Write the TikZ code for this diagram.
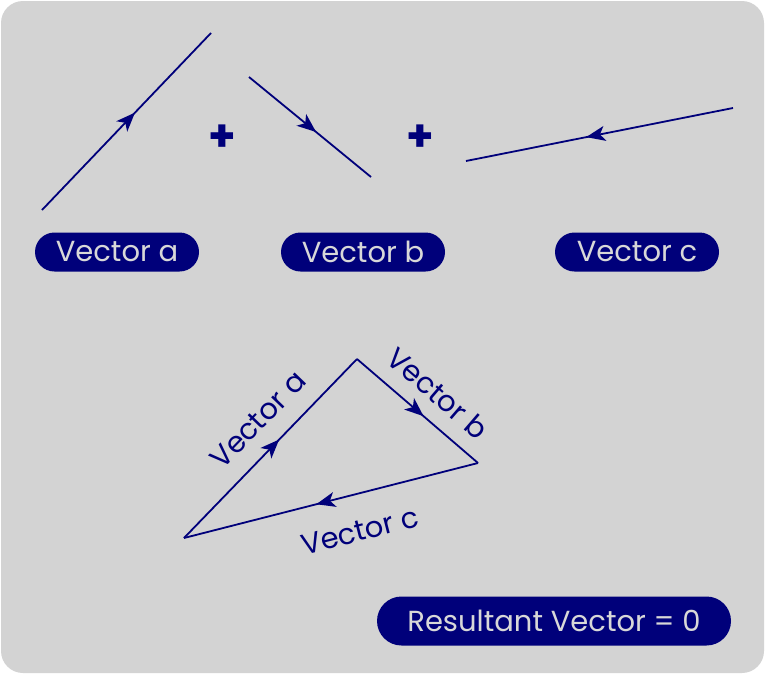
\documentclass[tikz,border=0pt]{standalone}
\usepackage{fontspec}
\setmainfont{Poppins}
\usetikzlibrary{arrows.meta,decorations.markings,shapes.misc,calc}
\definecolor{navy}{HTML}{00007A}
\definecolor{bggray}{HTML}{D3D3D3}
\definecolor{pilltext}{HTML}{D8D8D8}
\tikzset{
  vec/.style={draw=navy, line width=1.8pt,
    postaction={decorate},
    decoration={markings, mark=at position 0.55 with {\arrow{Stealth[length=19pt,width=15pt,inset=5pt]}}}},
  pill/.style={rounded rectangle, fill=navy, text=pilltext, minimum height=39pt,
    minimum width=164pt, inner sep=0pt, font=\fontsize{29}{33}\selectfont},
  vlabel/.style={text=navy, font=\fontsize{29}{33}\selectfont, inner sep=0pt},
  plus/.style={text=navy, font=\fontsize{44}{48}\selectfont\bfseries, inner sep=0pt}
}
\begin{document}
\begin{tikzpicture}[x=1pt,y=-1pt]
\useasboundingbox (0,0) rectangle (768,675);
\fill[bggray, rounded corners=22pt] (1,1) rectangle (764,673);
% top vectors
\coordinate (a1) at (42,210);
\coordinate (a2) at (211,33);
\coordinate (b1) at (249,77);
\coordinate (b2) at (371,177);
\coordinate (c1) at (733,108);
\coordinate (c2) at (466,161);
\draw[vec] (a1) -- (a2);
\draw[vec] (b1) -- (b2);
\draw[vec] (c1) -- (c2);
\node[plus] (p1) at (222,138) {+};
\node[plus] (p2) at (420,138) {+};
\node[pill] (la) at (117,252) {Vector a};
\node[pill] (lb) at (363,252) {Vector b};
\node[pill] (lc) at (637,252) {Vector c};
% triangle
\coordinate (A) at (184,538);
\coordinate (B) at (357,359);
\coordinate (C) at (478,463);
\draw[vec] (A) -- (B);
\draw[vec] (B) -- (C);
\draw[vec] (C) -- (A);
\node[vlabel, rotate=46] (ta) at (258,420) {Vector a};
\node[vlabel, rotate=-40.7] (tb) at (438,393) {Vector b};
\node[vlabel, rotate=14.3] (tc) at (360,531) {Vector c};
\node[pill, minimum width=354pt, minimum height=49pt] (res) at (554,621) {Resultant Vector = 0};
\end{tikzpicture}
\end{document}
